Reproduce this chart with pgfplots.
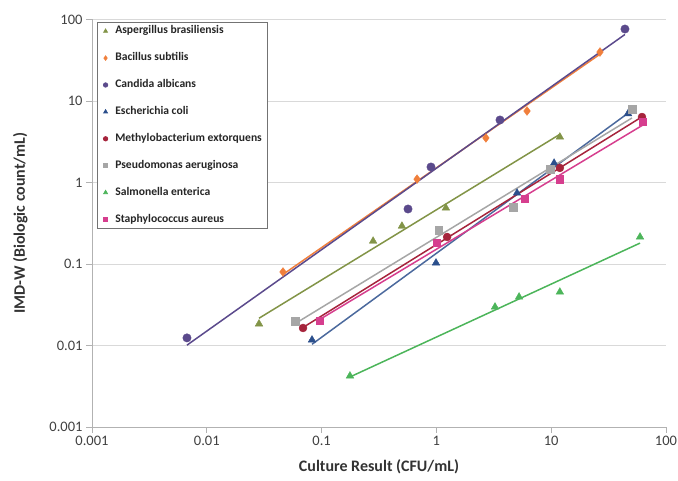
\documentclass[border=0pt]{standalone}
\usepackage{pgfplots}
\pgfplotsset{compat=1.18}
\usepackage{fontspec}
\setmainfont{Carlito}
\definecolor{cAsp}{HTML}{829447}
\definecolor{cBac}{HTML}{F07F3C}
\definecolor{cCan}{HTML}{5B4A8C}
\definecolor{cEsc}{HTML}{2B4F8C}
\definecolor{cMet}{HTML}{A6243C}
\definecolor{cPse}{HTML}{A6A6A6}
\definecolor{cSal}{HTML}{4CB55A}
\definecolor{cSta}{HTML}{D63E8E}
\begin{document}
\begin{tikzpicture}
\useasboundingbox (-92pt,-54pt) rectangle (586pt,427pt);
\begin{axis}[
  at={(0,0)}, anchor=south west,
  scale only axis, width=574pt, height=407.5pt,
  xmode=log, ymode=log,
  xmin=0.001, xmax=100, ymin=0.001, ymax=100,
  xtick={0.001,0.01,0.1,1,10,100}, xticklabels={0.001,0.01,0.1,1,10,100},
  ytick={0.001,0.01,0.1,1,10,100}, yticklabels={0.001,0.01,0.1,1,10,100},
  xminorticks=false, yminorticks=false,
  axis x line*=bottom, axis y line*=left,
  axis line style={draw=black!30, line width=0.8pt, -},
  ymajorgrids, grid style={draw=black!15, line width=0.8pt},
  major tick style={draw=black!30, line width=0.8pt},
  tick align=outside, major tick length=6pt,
  /pgf/number format/assume math mode=true,
  ticklabel style={font=\fontsize{14.5}{16}\selectfont, text=black!75},
  every axis x label/.style={at={(axis description cs:0.5,-0.098)}, anchor=center},
  every axis y label/.style={at={(axis description cs:-0.125,0.5)}, rotate=90, anchor=center},
  label style={font=\fontsize{16}{18}\selectfont\bfseries, text=black!80},
  xlabel={Culture Result (CFU/mL)},
  ylabel={IMD-W (Biologic count/mL)},
  legend cell align=left,
  legend image code/.code={\draw[#1, mark size=2.2pt] plot coordinates {(0pt,0pt)};},
  legend style={at={(axis description cs:0.0087,0.994)}, anchor=north west,
    draw=black!55, line width=0.8pt, inner xsep=6pt, inner ysep=3.6pt,
    font=\fontsize{11.6}{13}\selectfont\bfseries, text=black!85,
    nodes={inner sep=0pt, text height=8pt, text depth=2.5pt},
    row sep=16.4pt,
    /tikz/every odd column/.append style={column sep=7.5pt}},
  mark options={solid},
]
\addplot[only marks, mark=triangle*, mark size=4.4pt, color=cAsp] coordinates {(0.0285,0.0184) (0.281,0.191) (0.501,0.292) (1.21,0.487) (11.9,3.62)};
\addlegendentry{Aspergillus brasiliensis}
\addplot[only marks, mark=diamond*, mark size=4.4pt, color=cBac] coordinates {(0.0461,0.0798) (0.678,1.10) (2.70,3.52) (6.16,7.54) (26.6,39.9)};
\addlegendentry{Bacillus subtilis}
\addplot[only marks, mark=*, mark size=4.2pt, color=cCan] coordinates {(0.00672,0.0124) (0.566,0.473) (0.897,1.55) (3.58,5.85) (43.9,76.4)};
\addlegendentry{Candida albicans}
\addplot[only marks, mark=triangle*, mark size=4.4pt, color=cEsc] coordinates {(0.0825,0.0117) (0.992,0.103) (5.04,0.743) (10.6,1.73) (46.7,7.0)};
\addlegendentry{Escherichia coli}
\addplot[only marks, mark=*, mark size=4pt, color=cMet] coordinates {(0.0689,0.0164) (1.24,0.2145) (11.9,1.51) (61.8,6.36)};
\addlegendentry{Methylobacterium extorquens}
\addplot[only marks, mark=square*, mark size=3.8pt, color=cPse] coordinates {(0.0586,0.0200) (1.05,0.261) (4.65,0.50) (9.77,1.46) (50.6,7.97)};
\addlegendentry{Pseudomonas aeruginosa}
\addplot[only marks, mark=triangle*, mark size=4.4pt, color=cSal] coordinates {(0.1766,0.00423) (3.24,0.0297) (5.25,0.0394) (11.9,0.0453) (59.4,0.2145)};
\addlegendentry{Salmonella enterica}
\addplot[only marks, mark=square*, mark size=3.6pt, color=cSta] coordinates {(0.0968,0.0200) (1.01,0.181) (5.92,0.628) (11.9,1.10) (63.1,5.52)};
\addlegendentry{Staphylococcus aureus}
% trend lines
\addplot[forget plot, no marks, color=cAsp, line width=1.5pt] coordinates {(0.0285,0.0216) (11.9,3.90)};
\addplot[forget plot, no marks, color=cBac, line width=1.5pt] coordinates {(0.0461,0.0745) (26.6,37.5)};
\addplot[forget plot, no marks, color=cCan, line width=1.5pt] coordinates {(0.00672,0.0101) (43.9,65.5)};
\addplot[forget plot, no marks, color=cEsc!85!white, line width=1.5pt] coordinates {(0.0825,0.01035) (46.7,7.09)};
\addplot[forget plot, no marks, color=cMet, line width=1.5pt] coordinates {(0.0689,0.01664) (61.8,6.40)};
\addplot[forget plot, no marks, color=cPse, line width=1.5pt] coordinates {(0.0586,0.0185) (50.6,6.20)};
\addplot[forget plot, no marks, color=cSal, line width=1.5pt] coordinates {(0.1766,0.00411) (59.4,0.1805)};
\addplot[forget plot, no marks, color=cSta, line width=1.5pt] coordinates {(0.0968,0.02094) (63.1,5.09)};
\end{axis}
\end{tikzpicture}
\end{document}
